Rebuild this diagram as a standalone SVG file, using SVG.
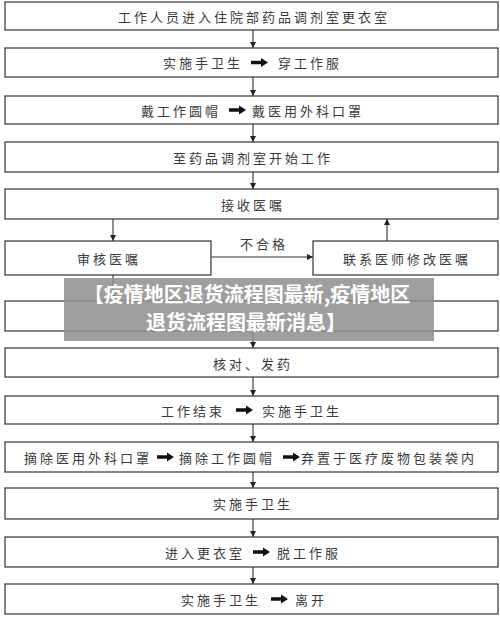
<svg xmlns="http://www.w3.org/2000/svg" width="500" height="619" viewBox="0 0 500 619">
<defs>
<style>
.box{fill:#fff;stroke:#333;stroke-width:1.2}
.t{font-family:"Noto Sans CJK SC","Noto Sans",sans-serif;font-size:13px;fill:#3a3a3a;letter-spacing:3px;dominant-baseline:central}
.c{text-anchor:middle}
.e{text-anchor:end}
.ln{stroke:#333;stroke-width:1.1;fill:none}
.ba{fill:#111}
.bn{font-family:"Noto Sans CJK SC","Noto Sans",sans-serif;font-size:20px;font-weight:bold;fill:#fff;text-anchor:middle;dominant-baseline:central}
</style>
<marker id="ah" viewBox="0 0 10 10" refX="10" refY="5" markerWidth="6" markerHeight="6" orient="auto" markerUnits="userSpaceOnUse"><path d="M0,0 L10,5 L0,10 z" fill="#222"/></marker>
<path id="ba" d="M0,-1.8 H10 V-4.5 L17,0 L10,4.5 V1.8 H0 z"/>
</defs>
<rect width="500" height="619" fill="#fff"/>
<g id="connectors">
<line class="ln" x1="253" y1="30" x2="253" y2="48" marker-end="url(#ah)"/>
<line class="ln" x1="253" y1="77" x2="253" y2="96" marker-end="url(#ah)"/>
<line class="ln" x1="253" y1="124" x2="253" y2="142" marker-end="url(#ah)"/>
<line class="ln" x1="253" y1="172" x2="253" y2="189" marker-end="url(#ah)"/>
<line class="ln" x1="113" y1="219" x2="113" y2="241" marker-end="url(#ah)"/>
<line class="ln" x1="211" y1="257" x2="313" y2="257" marker-end="url(#ah)"/>
<line class="ln" x1="387" y1="241" x2="387" y2="219" marker-end="url(#ah)"/>
<line class="ln" x1="113" y1="275" x2="113" y2="301" marker-end="url(#ah)"/>
<line class="ln" x1="253" y1="331" x2="253" y2="348" marker-end="url(#ah)"/>
<line class="ln" x1="253" y1="377" x2="253" y2="396" marker-end="url(#ah)"/>
<line class="ln" x1="253" y1="424" x2="253" y2="442" marker-end="url(#ah)"/>
<line class="ln" x1="253" y1="472" x2="253" y2="488" marker-end="url(#ah)"/>
<line class="ln" x1="253" y1="519" x2="253" y2="537" marker-end="url(#ah)"/>
<line class="ln" x1="253" y1="567" x2="253" y2="584" marker-end="url(#ah)"/>
<text class="t c" x="264" y="243">不合格</text>
</g>
<g id="n1"><rect class="box" x="5" y="2" width="493" height="28"/><text class="t c" x="254" y="16">工作人员进入住院部药品调剂室更衣室</text></g>
<g id="n2"><rect class="box" x="5" y="48" width="493" height="29"/><text class="t e" x="243" y="62.5">实施手卫生</text><use href="#ba" class="ba" x="251" y="62.5"/><text class="t" x="278" y="62.5">穿工作服</text></g>
<g id="n3"><rect class="box" x="5" y="96" width="493" height="28"/><text class="t e" x="221" y="110">戴工作圆帽</text><use href="#ba" class="ba" x="229" y="110"/><text class="t" x="252" y="110">戴医用外科口罩</text></g>
<g id="n4"><rect class="box" x="5" y="142" width="493" height="30"/><text class="t c" x="253" y="157">至药品调剂室开始工作</text></g>
<g id="n5"><rect class="box" x="5" y="189" width="493" height="30"/><text class="t c" x="253" y="204">接收医嘱</text></g>
<g id="n6"><rect class="box" x="5" y="241" width="206" height="34"/><text class="t c" x="109" y="258">审核医嘱</text></g>
<g id="n7"><rect class="box" x="313" y="241" width="185" height="34"/><text class="t c" x="407" y="258">联系医师修改医嘱</text></g>
<g id="n8"><rect class="box" x="5" y="301" width="493" height="30"/></g>
<g id="n9"><rect class="box" x="5" y="348" width="493" height="29"/><text class="t c" x="253" y="363">核对、发药</text></g>
<g id="n10"><rect class="box" x="5" y="396" width="493" height="28"/><text class="t e" x="225" y="410">工作结束</text><use href="#ba" class="ba" x="236" y="410"/><text class="t" x="262" y="410">实施手卫生</text></g>
<g id="n11"><rect class="box" x="5" y="442" width="493" height="30"/><text class="t" x="24" y="457">摘除医用外科口罩</text><use href="#ba" class="ba" x="157" y="457"/><text class="t" x="179" y="457">摘除工作圆帽</text><use href="#ba" class="ba" x="283" y="457"/><text class="t" x="301" y="457">弃置于医疗废物包装袋内</text></g>
<g id="n12"><rect class="box" x="5" y="488" width="493" height="31"/><text class="t c" x="253" y="503">实施手卫生</text></g>
<g id="n13"><rect class="box" x="5" y="537" width="493" height="30"/><text class="t e" x="245" y="552">进入更衣室</text><use href="#ba" class="ba" x="253" y="552"/><text class="t" x="277" y="552">脱工作服</text></g>
<g id="n14"><rect class="box" x="5" y="584" width="493" height="30"/><text class="t e" x="261" y="599">实施手卫生</text><use href="#ba" class="ba" x="271" y="599"/><text class="t" x="295" y="599">离开</text></g>
<g id="banner">
<rect x="64" y="278" width="370" height="63" fill="#8e8e8e" fill-opacity="0.85"/>
<text class="bn" x="247" y="293">【疫情地区退货流程图最新,疫情地区</text>
<text class="bn" x="246" y="321">退货流程图最新消息】</text>
</g>
</svg>
